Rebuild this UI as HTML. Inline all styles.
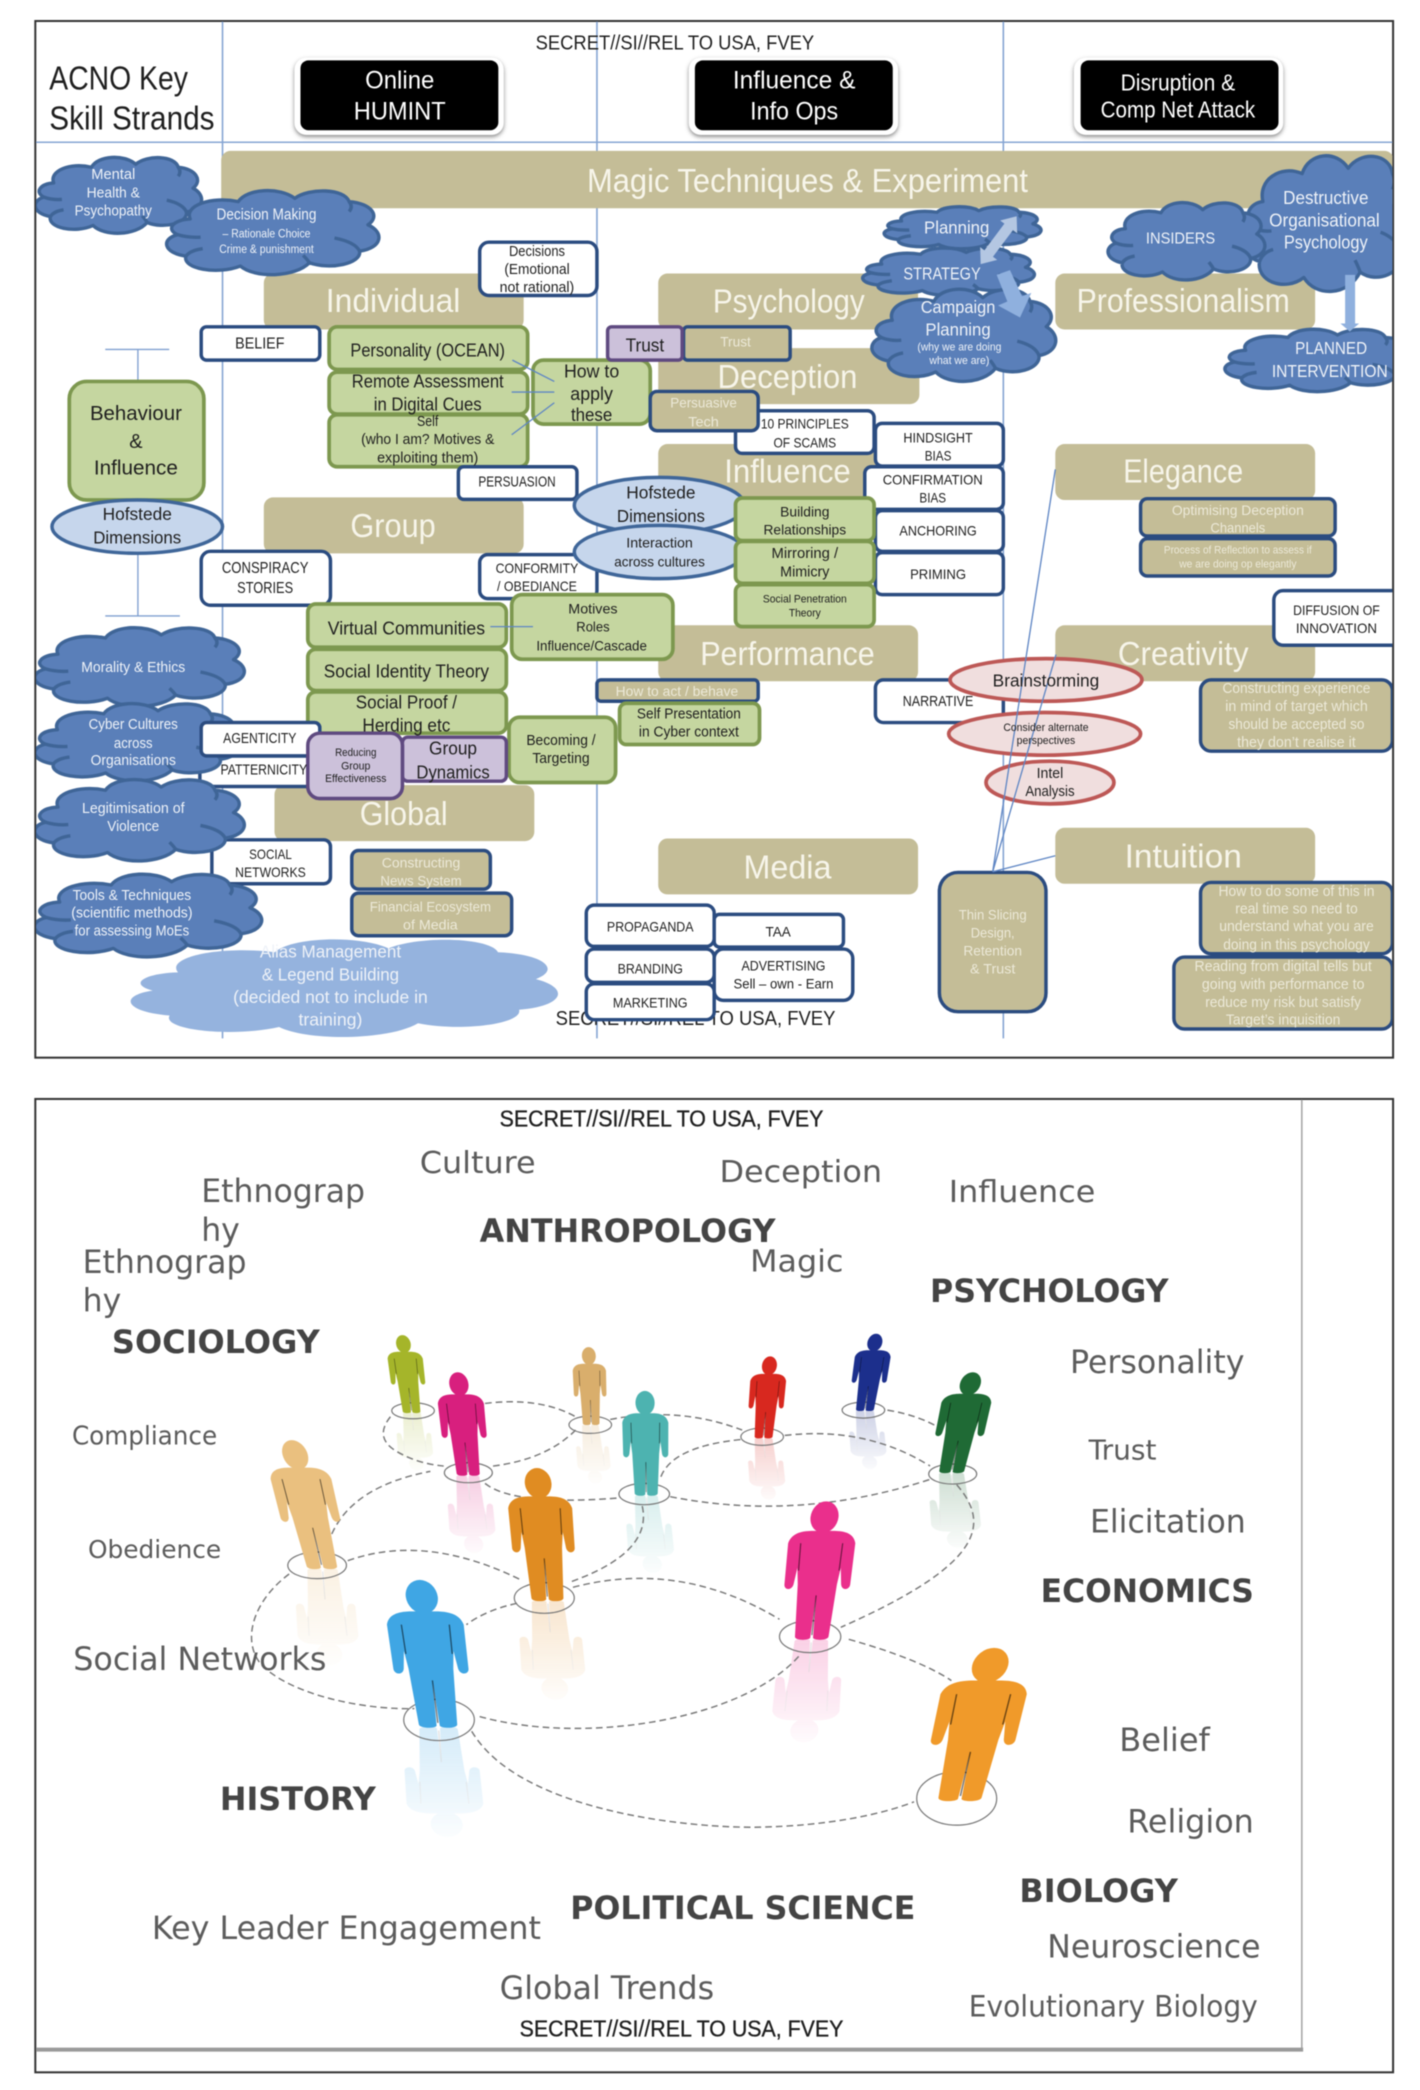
<!DOCTYPE html>
<html><head><meta charset="utf-8"><title>ACNO Key Skill Strands</title>
<style>
html,body{margin:0;padding:0;background:#fff}
svg{display:block;filter:blur(.45px)}
text{font-family:"Liberation Sans",sans-serif}
.c text{text-anchor:middle;dominant-baseline:central}
.d{fill:#1f1f1f}
.tan{fill:#c4bd97}
.bx{fill:#fff;stroke:#2b4c80;stroke-width:2.6}
.bt{fill:#c4bd97;stroke:#2b4c80;stroke-width:2.6}
.gr{fill:#c5d6a0;stroke:#7d984f;stroke-width:2.8}
.pu{fill:#ccc1da;stroke:#5f4a80;stroke-width:2.6}
.el{fill:#c6d6ec;stroke:#3f6699;stroke-width:2.6}
.re{fill:#f0dede;stroke:#bd5856;stroke-width:2.8}
.ln{stroke:#86a5d3;stroke-width:1;fill:none}
.ls{stroke:#5f86c4;stroke-width:1;fill:none}
.ds{stroke:#7a7a7a;stroke-width:1.1;fill:none;stroke-dasharray:5 3}
.gc{fill:none;stroke:#777;stroke-width:.9}
.wd text{font-family:"DejaVu Sans",sans-serif;fill:#5c5c5c}
.wd .b{font-weight:bold;fill:#444}
.cl{fill:#5a7fb9;stroke:#3f6597;stroke-width:3.4;vector-effect:non-scaling-stroke;stroke-linejoin:round}
.ca{fill:none;stroke:#3f6597;stroke-width:3.4;vector-effect:non-scaling-stroke}
</style></head>
<body>
<svg xmlns="http://www.w3.org/2000/svg" width="1420" height="2090" viewBox="0 0 1065.7 1568">
<defs>
<g id="cl"><path class="cl" d="M10,34C7,18 20,6 33,13C37,-3 53,-5 60,9C67,-4 84,-3 86,13C97,15 101,31 95,41C103,50 102,69 91,73C92,88 77,96 67,87C60,105 41,106 34,91C23,102 6,94 8,79C-3,75 -4,58 4,53C-2,46 2,35 10,34Z"/>
<path class="ca" d="M86,13Q88,19 86,25M91,73Q89,62 79,57M67,87Q66,83 64,78M8,79Q10,72 16,70M4,53Q9,57 15,56"/></g>
<g id="lc"><path d="M10,34C7,18 20,6 33,13C37,-3 53,-5 60,9C67,-4 84,-3 86,13C97,15 101,31 95,41C103,50 102,69 91,73C92,88 77,96 67,87C60,105 41,106 34,91C23,102 6,94 8,79C-3,75 -4,58 4,53C-2,46 2,35 10,34Z"/></g>
<g id="pr"><ellipse cx="0" cy="11" rx="10" ry="11.500"/>
<path d="M-7,21L7,21C14,21 22,22 24,30L23.500,60C23.500,64 18,65 17,60L15.500,48L14,60L12,98C12,101 2,101 1,99L0,70L-1,99C-2,101 -12,101 -12,98L-14,60L-15.500,48L-17,60C-18,65 -23.500,64 -23.500,60L-24,30C-22,22 -14,21 -7,21Z"/>
<path d="M0,68L0,97M-15,30L-14.500,50M15,30L14.500,50" fill="none" stroke="#000" stroke-opacity=".55" stroke-width=".8"/></g>
<clipPath id="fr"><rect x="27" y="16" width="1018" height="776"/></clipPath>
<filter id="sh" x="-10%" y="-20%" width="120%" height="150%"><feDropShadow dx="0" dy="1.5" stdDeviation="1.5" flood-color="#888"/></filter>
<linearGradient id="fg" x1="0" y1="0" x2="0" y2="1"><stop offset="0" stop-color="#000"/><stop offset="1" stop-color="#fff"/></linearGradient>
<mask id="fm" maskContentUnits="objectBoundingBox" x="-.2" y="-.1" width="1.4" height="1.2"><rect x="-.2" y="-.1" width="1.4" height="1.2" fill="url(#fg)"/></mask>
</defs>

<rect width="1067" height="1570" fill="#fff"/>
<!-- FRAME 1 -->
<rect x="26.500" y="15.500" width="1019" height="778" fill="#fff" stroke="#333" stroke-width="1.500"/>
<path class="ln" d="M167,16V779M448,16V779M753,16V779M27,106.500H1045" style="stroke-width:1.2"/>

<g clip-path="url(#fr)">
<!-- header -->
<text class="d" x="402" y="37" font-size="15" textLength="209" lengthAdjust="spacingAndGlyphs">SECRET//SI//REL TO USA, FVEY</text>
<text class="d" x="37" y="67" font-size="25" textLength="104" lengthAdjust="spacingAndGlyphs">ACNO Key</text>
<text class="d" x="37" y="97" font-size="25" textLength="124" lengthAdjust="spacingAndGlyphs">Skill Strands</text>
<rect x="221" y="43" width="157" height="58" rx="9" fill="#fff" filter="url(#sh)"/>
<rect x="517" y="43" width="157" height="58" rx="9" fill="#fff" filter="url(#sh)"/>
<rect x="806" y="43" width="157" height="58" rx="9" fill="#fff" filter="url(#sh)"/>
<rect x="225.500" y="45" width="148.500" height="52.500" rx="6" fill="#000"/>
<rect x="521.500" y="45" width="148.500" height="52.500" rx="6" fill="#000"/>
<rect x="811" y="45" width="148.500" height="52.500" rx="6" fill="#000"/>

<!-- tan bars -->
<rect class="tan" x="166" y="113" width="880" height="43" rx="7"/>
<rect class="tan" x="198" y="205" width="195" height="42" rx="7"/>
<rect class="tan" x="494" y="205" width="195" height="42" rx="7"/>
<rect class="tan" x="792" y="205" width="195" height="42" rx="7"/>
<rect class="tan" x="494" y="261" width="196" height="42" rx="7"/>
<rect class="tan" x="494" y="333" width="195" height="42" rx="7"/>
<rect class="tan" x="792" y="333" width="195" height="42" rx="7"/>
<rect class="tan" x="198" y="373" width="195" height="42" rx="7"/>
<rect class="tan" x="494" y="469" width="195" height="42" rx="7"/>
<rect class="tan" x="792" y="469" width="195" height="42" rx="7"/>
<rect class="tan" x="206" y="589" width="195" height="42" rx="7"/>
<rect class="tan" x="494" y="629" width="195" height="42" rx="7"/>
<rect class="tan" x="792" y="621" width="195" height="42" rx="7"/>

<!-- bottom marking (behind boxes) -->
<text class="d" x="417" y="769" font-size="15" textLength="210" lengthAdjust="spacingAndGlyphs">SECRET//SI//REL TO USA, FVEY</text>

<!-- left axis lines -->
<path class="ln" d="M79,262H127M103.500,262V286M103.500,414V462M79,462H135" style="stroke:#7f9fd0"/>

<!-- boxes -->
<rect class="bx" x="360" y="181.500" width="88" height="40" rx="7"/>
<rect class="bx" x="151" y="245" width="89" height="25" rx="4"/>
<rect class="gr" x="247" y="245" width="149" height="32" rx="6"/>
<rect class="gr" x="247" y="279" width="149" height="31.500" rx="6"/>
<rect class="gr" x="247" y="311" width="149" height="39" rx="6"/>
<rect class="gr" x="400" y="270" width="88" height="48" rx="8"/>
<rect class="bt" x="513" y="245" width="80" height="25" rx="3"/>
<rect class="pu" x="456" y="245" width="56" height="25" rx="3"/>
<rect class="bx" x="552" y="308" width="104" height="32" rx="5"/>
<rect class="bt" x="488" y="293.500" width="81" height="29.500" rx="5"/>
<rect class="bx" x="657" y="317.500" width="96" height="32" rx="5"/>
<rect class="bx" x="649" y="350" width="104" height="32" rx="5"/>
<rect class="bx" x="657" y="383" width="96" height="30.500" rx="5"/>
<rect class="bx" x="657" y="414.500" width="96" height="31.500" rx="5"/>
<rect class="bx" x="344" y="350" width="89" height="24.500" rx="4"/>
<rect class="gr" x="52" y="286" width="101" height="89" rx="13"/>
<ellipse class="el" cx="103" cy="395" rx="64" ry="20"/>
<rect class="bx" x="151" y="413.500" width="97" height="40.500" rx="7"/>
<rect class="bx" x="360" y="416" width="88" height="33" rx="6"/>
<ellipse class="el" cx="495" cy="379" rx="64" ry="21"/>
<ellipse class="el" cx="495" cy="414" rx="64" ry="20"/>
<rect class="gr" x="552" y="373.500" width="104" height="32" rx="5"/>
<rect class="gr" x="552" y="406" width="104" height="31.500" rx="5"/>
<rect class="gr" x="552" y="438.500" width="104" height="31.500" rx="5"/>
<rect class="bt" x="448" y="510" width="121" height="16" rx="3"/>
<rect class="gr" x="465" y="527.500" width="105" height="31" rx="5"/>
<rect class="gr" x="384" y="446" width="121" height="48.500" rx="8"/>
<rect class="gr" x="231" y="453" width="149" height="32.500" rx="6"/>
<rect class="gr" x="231" y="487" width="149" height="31" rx="6"/>
<rect class="gr" x="231" y="519" width="149" height="31" rx="6"/>
<rect class="gr" x="382" y="538" width="80" height="49" rx="8"/>
<rect class="pu" x="302" y="553" width="78" height="33" rx="4"/>
<rect class="bx" x="150" y="567" width="90" height="23" rx="3"/>
<rect class="pu" x="231" y="550" width="71" height="49" rx="9"/>
<rect class="bx" x="151" y="542" width="89" height="25" rx="4"/>
<rect class="bx" x="159" y="630" width="89" height="33" rx="5"/>
<rect class="bt" x="264" y="638" width="104" height="29" rx="5"/>
<rect class="bt" x="264" y="670" width="120" height="32" rx="5"/>
<rect class="bx" x="440" y="679" width="96" height="31" rx="6"/>
<rect class="bx" x="440" y="712" width="96" height="25" rx="6"/>
<rect class="bx" x="440" y="738" width="96" height="27" rx="6"/>
<rect class="bx" x="536" y="686" width="97" height="24.500" rx="4"/>
<rect class="bx" x="536" y="712" width="104" height="38.500" rx="7"/>
<rect class="bx" x="657" y="510" width="96" height="32" rx="6"/>
<rect class="bt" x="856" y="374" width="146" height="28" rx="5"/>
<rect class="bt" x="856" y="404" width="146" height="28" rx="5"/>
<rect class="bx" x="956" y="443" width="100" height="41" rx="7"/>
<rect class="bt" x="901" y="510" width="144" height="53.500" rx="8"/>
<rect class="bt" x="901" y="662" width="144" height="53.500" rx="8"/>
<rect class="bt" x="881" y="718" width="164" height="54" rx="8"/>
<rect class="bt" x="705" y="654.500" width="80" height="104.500" rx="14"/>
<ellipse class="re" cx="785" cy="510" rx="72" ry="16"/>
<ellipse class="re" cx="784" cy="550.500" rx="72" ry="16"/>
<ellipse class="re" cx="788" cy="587" rx="48" ry="16"/>

<!-- connector lines -->
<path class="ls" d="M384.500,270L416,286M384,294H416M384,326L416,302M368,470H400"/>
<path class="ls" d="M745,654L792,642M745,654L792.500,491M745,654L792,352"/>

<!-- clouds -->
<use href="#lc" fill="#95b3de" transform="translate(102,705) scale(3.16,.72)"/>
<use href="#cl" transform="translate(28,118) scale(1.23,.56)"/>
<use href="#cl" transform="translate(127,143) scale(1.57,.62)"/>
<use href="#cl" transform="translate(28,471) scale(1.55,.58)"/>
<use href="#cl" transform="translate(28,528) scale(1.51,.57)"/>
<use href="#cl" transform="translate(28,585) scale(1.55,.60)"/>
<use href="#cl" transform="translate(28,656) scale(1.68,.61)"/>
<use href="#cl" transform="translate(665,155) scale(1.16,.31)"/>
<use href="#cl" transform="translate(649,186) scale(1.27,.35)"/>
<use href="#cl" transform="translate(656,217) scale(1.36,.68)"/>
<use href="#cl" transform="translate(935,117) scale(1.28,1.00)"/>
<use href="#cl" transform="translate(833,152) scale(1.16,.57)"/>
<use href="#cl" transform="translate(921,247) scale(1.38,.46)"/>
<!-- re-draw boxes overlapping left clouds -->
<rect class="bx" x="151" y="542" width="89" height="25" rx="4"/>
<rect class="pu" x="231" y="550" width="71" height="49" rx="9"/>

<!-- block arrows -->
<path fill="#b4c7e2" d="M763,162L763.400,174.800L760.200,172.400L745.200,192.400L748.400,194.800L736,198L735.600,185.200L738.800,187.600L753.800,167.600L750.600,165.200Z"/>
<path fill="#8fb0de" d="M748,206L758,202.500L767,222L774,219.500L765.500,238L749,229L756,226Z"/>
<path fill="#8fb0de" d="M1009.500,206H1017V242.500H1020L1013,248.500L1006,242.500H1009.500Z"/>

<!-- TEXT: white on black -->
<g class="c" fill="#fff">
<text x="300" y="60" font-size="19" textLength="52" lengthAdjust="spacingAndGlyphs">Online</text>
<text x="300" y="83.500" font-size="19" textLength="69" lengthAdjust="spacingAndGlyphs">HUMINT</text>
<text x="596" y="60" font-size="19" textLength="92" lengthAdjust="spacingAndGlyphs">Influence &amp;</text>
<text x="596" y="83.500" font-size="19" textLength="66" lengthAdjust="spacingAndGlyphs">Info Ops</text>
<text x="884" y="61.500" font-size="17" textLength="86" lengthAdjust="spacingAndGlyphs">Disruption &amp;</text>
<text x="884" y="82" font-size="17" textLength="116" lengthAdjust="spacingAndGlyphs">Comp Net Attack</text>
</g>
<!-- TEXT: tan headings -->
<g class="c" fill="#f7f5ea">
<text x="606" y="136" font-size="25" textLength="331" lengthAdjust="spacingAndGlyphs">Magic Techniques &amp; Experiment</text>
<text x="295" y="226" font-size="25" textLength="101" lengthAdjust="spacingAndGlyphs">Individual</text>
<text x="592" y="226.500" font-size="25" textLength="114" lengthAdjust="spacingAndGlyphs">Psychology</text>
<text x="888" y="226" font-size="25" textLength="160" lengthAdjust="spacingAndGlyphs">Professionalism</text>
<text x="591" y="283" font-size="25" textLength="105" lengthAdjust="spacingAndGlyphs">Deception</text>
<text x="591" y="354" font-size="25" textLength="95" lengthAdjust="spacingAndGlyphs">Influence</text>
<text x="888" y="354" font-size="25" textLength="90" lengthAdjust="spacingAndGlyphs">Elegance</text>
<text x="295" y="395" font-size="25" textLength="64" lengthAdjust="spacingAndGlyphs">Group</text>
<text x="591" y="491" font-size="25" textLength="131" lengthAdjust="spacingAndGlyphs">Performance</text>
<text x="888" y="491" font-size="25" textLength="98" lengthAdjust="spacingAndGlyphs">Creativity</text>
<text x="303" y="611" font-size="25" textLength="66" lengthAdjust="spacingAndGlyphs">Global</text>
<text x="591" y="651" font-size="25" textLength="66" lengthAdjust="spacingAndGlyphs">Media</text>
<text x="888" y="643" font-size="25" textLength="88" lengthAdjust="spacingAndGlyphs">Intuition</text>
</g>
<!-- TEXT: dark -->
<g class="c" fill="#1f1f1f">
<text x="403" y="189" font-size="11" textLength="42" lengthAdjust="spacingAndGlyphs">Decisions</text>
<text x="403" y="202.500" font-size="11" textLength="49" lengthAdjust="spacingAndGlyphs">(Emotional</text>
<text x="403" y="216" font-size="11" textLength="56" lengthAdjust="spacingAndGlyphs">not rational)</text>
<text x="195" y="258" font-size="12" textLength="37" lengthAdjust="spacingAndGlyphs">BELIEF</text>
<text x="321" y="262.500" font-size="14" textLength="116" lengthAdjust="spacingAndGlyphs">Personality (OCEAN)</text>
<text x="321" y="285.500" font-size="14" textLength="114" lengthAdjust="spacingAndGlyphs">Remote Assessment</text>
<text x="321" y="303" font-size="14" textLength="81" lengthAdjust="spacingAndGlyphs">in Digital Cues</text>
<text x="321" y="316.500" font-size="11" textLength="16" lengthAdjust="spacingAndGlyphs">Self</text>
<text x="321" y="330" font-size="11" textLength="100" lengthAdjust="spacingAndGlyphs">(who I am? Motives &amp;</text>
<text x="321" y="344" font-size="11" textLength="76" lengthAdjust="spacingAndGlyphs">exploiting them)</text>
<text x="444" y="278" font-size="14" textLength="41.500" lengthAdjust="spacingAndGlyphs">How to</text>
<text x="444" y="295" font-size="14" textLength="32" lengthAdjust="spacingAndGlyphs">apply</text>
<text x="444" y="311" font-size="14" textLength="31" lengthAdjust="spacingAndGlyphs">these</text>
<text x="484" y="258.500" font-size="14" textLength="29" lengthAdjust="spacingAndGlyphs">Trust</text>
<text x="388" y="362" font-size="11" textLength="58" lengthAdjust="spacingAndGlyphs">PERSUASION</text>
<text x="102" y="310" font-size="15.500" textLength="69" lengthAdjust="spacingAndGlyphs">Behaviour</text>
<text x="102" y="331" font-size="15.500" textLength="10" lengthAdjust="spacingAndGlyphs">&amp;</text>
<text x="102" y="351" font-size="15.500" textLength="63" lengthAdjust="spacingAndGlyphs">Influence</text>
<text x="103" y="385.500" font-size="13" textLength="52" lengthAdjust="spacingAndGlyphs">Hofstede</text>
<text x="103" y="403" font-size="13" textLength="66" lengthAdjust="spacingAndGlyphs">Dimensions</text>
<text x="496" y="369.500" font-size="13" textLength="52" lengthAdjust="spacingAndGlyphs">Hofstede</text>
<text x="496" y="387" font-size="13" textLength="66" lengthAdjust="spacingAndGlyphs">Dimensions</text>
<text x="495" y="407" font-size="10.500" textLength="50" lengthAdjust="spacingAndGlyphs">Interaction</text>
<text x="495" y="421" font-size="10.500" textLength="68" lengthAdjust="spacingAndGlyphs">across cultures</text>
<text x="199" y="426.500" font-size="12" textLength="65" lengthAdjust="spacingAndGlyphs">CONSPIRACY</text>
<text x="199" y="441.500" font-size="12" textLength="42" lengthAdjust="spacingAndGlyphs">STORIES</text>
<text x="403" y="426" font-size="10.500" textLength="62" lengthAdjust="spacingAndGlyphs">CONFORMITY</text>
<text x="403" y="439.500" font-size="10.500" textLength="60" lengthAdjust="spacingAndGlyphs">/ OBEDIANCE</text>
<text x="445" y="456.500" font-size="10.500" textLength="37" lengthAdjust="spacingAndGlyphs">Motives</text>
<text x="445" y="470" font-size="10.500" textLength="25" lengthAdjust="spacingAndGlyphs">Roles</text>
<text x="444" y="484" font-size="10.500" textLength="83" lengthAdjust="spacingAndGlyphs">Influence/Cascade</text>
<text x="305" y="471" font-size="14" textLength="118" lengthAdjust="spacingAndGlyphs">Virtual Communities</text>
<text x="305" y="503.500" font-size="14" textLength="124" lengthAdjust="spacingAndGlyphs">Social Identity Theory</text>
<text x="305" y="526.500" font-size="14" textLength="76" lengthAdjust="spacingAndGlyphs">Social Proof /</text>
<text x="305" y="544" font-size="14" textLength="66" lengthAdjust="spacingAndGlyphs">Herding etc</text>
<text x="421" y="556" font-size="11" textLength="52" lengthAdjust="spacingAndGlyphs">Becoming /</text>
<text x="421" y="569.500" font-size="11" textLength="43" lengthAdjust="spacingAndGlyphs">Targeting</text>
<text x="340" y="561" font-size="14" textLength="36" lengthAdjust="spacingAndGlyphs">Group</text>
<text x="340" y="579" font-size="14" textLength="55" lengthAdjust="spacingAndGlyphs">Dynamics</text>
<text x="267" y="565" font-size="8.500" textLength="31" lengthAdjust="spacingAndGlyphs">Reducing</text>
<text x="267" y="575" font-size="8.500" textLength="22" lengthAdjust="spacingAndGlyphs">Group</text>
<text x="267" y="584.500" font-size="8.500" textLength="46" lengthAdjust="spacingAndGlyphs">Effectiveness</text>
<text x="195" y="554.500" font-size="11" textLength="55" lengthAdjust="spacingAndGlyphs">AGENTICITY</text>
<text x="198" y="578" font-size="11" textLength="65" lengthAdjust="spacingAndGlyphs">PATTERNICITY</text>
<text x="203" y="640.500" font-size="10.500" textLength="32" lengthAdjust="spacingAndGlyphs">SOCIAL</text>
<text x="203" y="654" font-size="10.500" textLength="53" lengthAdjust="spacingAndGlyphs">NETWORKS</text>
<text x="488" y="695" font-size="10.500" textLength="65" lengthAdjust="spacingAndGlyphs">PROPAGANDA</text>
<text x="488" y="726.500" font-size="10.500" textLength="49" lengthAdjust="spacingAndGlyphs">BRANDING</text>
<text x="488" y="752" font-size="10.500" textLength="56" lengthAdjust="spacingAndGlyphs">MARKETING</text>
<text x="584" y="699" font-size="10.500" textLength="19" lengthAdjust="spacingAndGlyphs">TAA</text>
<text x="588" y="724.500" font-size="10.500" textLength="63" lengthAdjust="spacingAndGlyphs">ADVERTISING</text>
<text x="588" y="738" font-size="10.500" textLength="75" lengthAdjust="spacingAndGlyphs">Sell – own - Earn</text>
<text x="604" y="317.500" font-size="10.500" textLength="66" lengthAdjust="spacingAndGlyphs">10 PRINCIPLES</text>
<text x="604" y="332" font-size="10.500" textLength="47" lengthAdjust="spacingAndGlyphs">OF SCAMS</text>
<text x="704" y="328" font-size="10.500" textLength="52" lengthAdjust="spacingAndGlyphs">HINDSIGHT</text>
<text x="704" y="341.500" font-size="10.500" textLength="20" lengthAdjust="spacingAndGlyphs">BIAS</text>
<text x="700" y="359.500" font-size="10.500" textLength="75" lengthAdjust="spacingAndGlyphs">CONFIRMATION</text>
<text x="700" y="373" font-size="10.500" textLength="20" lengthAdjust="spacingAndGlyphs">BIAS</text>
<text x="704" y="398" font-size="10.500" textLength="58" lengthAdjust="spacingAndGlyphs">ANCHORING</text>
<text x="704" y="430.500" font-size="10.500" textLength="42" lengthAdjust="spacingAndGlyphs">PRIMING</text>
<text x="604" y="383.500" font-size="10.500" textLength="37" lengthAdjust="spacingAndGlyphs">Building</text>
<text x="604" y="397" font-size="10.500" textLength="62" lengthAdjust="spacingAndGlyphs">Relationships</text>
<text x="604" y="415.500" font-size="11" textLength="50" lengthAdjust="spacingAndGlyphs">Mirroring /</text>
<text x="604" y="429.500" font-size="11" textLength="37" lengthAdjust="spacingAndGlyphs">Mimicry</text>
<text x="604" y="449.500" font-size="8.500" textLength="63" lengthAdjust="spacingAndGlyphs">Social Penetration</text>
<text x="604" y="460" font-size="8.500" textLength="24" lengthAdjust="spacingAndGlyphs">Theory</text>
<text x="517" y="536" font-size="11" textLength="78" lengthAdjust="spacingAndGlyphs">Self Presentation</text>
<text x="517" y="549.500" font-size="11" textLength="75" lengthAdjust="spacingAndGlyphs">in Cyber context</text>
<text x="704" y="526.500" font-size="11" textLength="53" lengthAdjust="spacingAndGlyphs">NARRATIVE</text>
<text x="1003" y="457.500" font-size="10.500" textLength="65" lengthAdjust="spacingAndGlyphs">DIFFUSION OF</text>
<text x="1003" y="471" font-size="10.500" textLength="61" lengthAdjust="spacingAndGlyphs">INNOVATION</text>
<text x="785" y="510.500" font-size="13" textLength="80" lengthAdjust="spacingAndGlyphs">Brainstorming</text>
<text x="785" y="546" font-size="8.500" textLength="64" lengthAdjust="spacingAndGlyphs">Consider alternate</text>
<text x="785" y="556" font-size="8.500" textLength="44" lengthAdjust="spacingAndGlyphs">perspectives</text>
<text x="788" y="580.500" font-size="11" textLength="20" lengthAdjust="spacingAndGlyphs">Intel</text>
<text x="788" y="594" font-size="11" textLength="37" lengthAdjust="spacingAndGlyphs">Analysis</text>
</g>
<!-- TEXT: on blue clouds -->
<g class="c" fill="#eef2f8">
<text x="85" y="131" font-size="11" textLength="33" lengthAdjust="spacingAndGlyphs">Mental</text>
<text x="85" y="145" font-size="11" textLength="40" lengthAdjust="spacingAndGlyphs">Health &amp;</text>
<text x="85" y="158.500" font-size="11" textLength="58" lengthAdjust="spacingAndGlyphs">Psychopathy</text>
<text x="200" y="161" font-size="11.500" textLength="75" lengthAdjust="spacingAndGlyphs">Decision Making</text>
<text x="200" y="175" font-size="9" textLength="66" lengthAdjust="spacingAndGlyphs">– Rationale Choice</text>
<text x="200" y="186.500" font-size="9" textLength="71" lengthAdjust="spacingAndGlyphs">Crime &amp; punishment</text>
<text x="100" y="501" font-size="11" textLength="78" lengthAdjust="spacingAndGlyphs">Morality &amp; Ethics</text>
<text x="100" y="544" font-size="11" textLength="67" lengthAdjust="spacingAndGlyphs">Cyber Cultures</text>
<text x="100" y="558" font-size="11" textLength="29" lengthAdjust="spacingAndGlyphs">across</text>
<text x="100" y="571" font-size="11" textLength="64" lengthAdjust="spacingAndGlyphs">Organisations</text>
<text x="100" y="607" font-size="11" textLength="77" lengthAdjust="spacingAndGlyphs">Legitimisation of</text>
<text x="100" y="620.500" font-size="11" textLength="39" lengthAdjust="spacingAndGlyphs">Violence</text>
<text x="99" y="672" font-size="11" textLength="89" lengthAdjust="spacingAndGlyphs">Tools &amp; Techniques</text>
<text x="99" y="685.500" font-size="11" textLength="91" lengthAdjust="spacingAndGlyphs">(scientific methods)</text>
<text x="99" y="699" font-size="11" textLength="86" lengthAdjust="spacingAndGlyphs">for assessing MoEs</text>
<text x="718" y="170.500" font-size="13" textLength="49" lengthAdjust="spacingAndGlyphs">Planning</text>
<text x="707" y="205" font-size="13" textLength="58" lengthAdjust="spacingAndGlyphs">STRATEGY</text>
<text x="719" y="230" font-size="13" textLength="56" lengthAdjust="spacingAndGlyphs">Campaign</text>
<text x="719" y="247" font-size="13" textLength="49" lengthAdjust="spacingAndGlyphs">Planning</text>
<text x="720" y="260.500" font-size="8.500" textLength="63" lengthAdjust="spacingAndGlyphs">(why we are doing</text>
<text x="720" y="270.500" font-size="8.500" textLength="45" lengthAdjust="spacingAndGlyphs">what we are)</text>
<text x="886" y="179" font-size="12" textLength="52" lengthAdjust="spacingAndGlyphs">INSIDERS</text>
<text x="995" y="148" font-size="14" textLength="64" lengthAdjust="spacingAndGlyphs">Destructive</text>
<text x="994" y="165" font-size="14" textLength="83" lengthAdjust="spacingAndGlyphs">Organisational</text>
<text x="995" y="181.500" font-size="14" textLength="63" lengthAdjust="spacingAndGlyphs">Psychology</text>
<text x="999" y="261" font-size="13" textLength="54" lengthAdjust="spacingAndGlyphs">PLANNED</text>
<text x="998" y="278" font-size="13" textLength="87" lengthAdjust="spacingAndGlyphs">INTERVENTION</text>
<text x="248" y="714" font-size="13" textLength="106" lengthAdjust="spacingAndGlyphs">Alias Management</text>
<text x="248" y="731" font-size="13" textLength="103" lengthAdjust="spacingAndGlyphs">&amp; Legend Building</text>
<text x="248" y="748" font-size="13" textLength="146" lengthAdjust="spacingAndGlyphs">(decided not to include in</text>
<text x="248" y="765" font-size="13" textLength="48" lengthAdjust="spacingAndGlyphs">training)</text>
</g>
<!-- TEXT: pale on tan -->
<g class="c" fill="#ece9d8">
<text x="552" y="256" font-size="10.500" textLength="23" lengthAdjust="spacingAndGlyphs">Trust</text>
<text x="528" y="302" font-size="10.500" textLength="50" lengthAdjust="spacingAndGlyphs">Persuasive</text>
<text x="528" y="316" font-size="10.500" textLength="23" lengthAdjust="spacingAndGlyphs">Tech</text>
<text x="508" y="518.500" font-size="10.500" textLength="92" lengthAdjust="spacingAndGlyphs">How to act / behave</text>
<text x="316" y="647" font-size="10.500" textLength="59" lengthAdjust="spacingAndGlyphs">Constructing</text>
<text x="316" y="660.500" font-size="10.500" textLength="61" lengthAdjust="spacingAndGlyphs">News System</text>
<text x="323" y="680" font-size="10.500" textLength="91" lengthAdjust="spacingAndGlyphs">Financial Ecosystem</text>
<text x="323" y="693.500" font-size="10.500" textLength="41" lengthAdjust="spacingAndGlyphs">of Media</text>
<text x="929" y="382.500" font-size="10.500" textLength="99" lengthAdjust="spacingAndGlyphs">Optimising Deception</text>
<text x="929" y="395.500" font-size="10.500" textLength="41" lengthAdjust="spacingAndGlyphs">Channels</text>
<text x="929" y="413" font-size="8.500" textLength="111" lengthAdjust="spacingAndGlyphs">Process of Reflection to assess if</text>
<text x="929" y="423.500" font-size="8.500" textLength="88" lengthAdjust="spacingAndGlyphs">we are doing op elegantly</text>
<text x="973" y="517" font-size="11" textLength="111" lengthAdjust="spacingAndGlyphs">Constructing experience</text>
<text x="973" y="530.500" font-size="11" textLength="107" lengthAdjust="spacingAndGlyphs">in mind of target which</text>
<text x="973" y="544" font-size="11" textLength="102" lengthAdjust="spacingAndGlyphs">should be accepted so</text>
<text x="973" y="557.500" font-size="11" textLength="89" lengthAdjust="spacingAndGlyphs">they don’t realise it</text>
<text x="973" y="669" font-size="11" textLength="117" lengthAdjust="spacingAndGlyphs">How to do some of this in</text>
<text x="973" y="682.500" font-size="11" textLength="92" lengthAdjust="spacingAndGlyphs">real time so need to</text>
<text x="973" y="695.500" font-size="11" textLength="116" lengthAdjust="spacingAndGlyphs">understand what you are</text>
<text x="973" y="709.500" font-size="11" textLength="110" lengthAdjust="spacingAndGlyphs">doing in this psychology</text>
<text x="963" y="725.500" font-size="11" textLength="133" lengthAdjust="spacingAndGlyphs">Reading from digital tells but</text>
<text x="963" y="739" font-size="11" textLength="122" lengthAdjust="spacingAndGlyphs">going with performance to</text>
<text x="963" y="752.500" font-size="11" textLength="117" lengthAdjust="spacingAndGlyphs">reduce my risk but satisfy</text>
<text x="963" y="765.500" font-size="11" textLength="86" lengthAdjust="spacingAndGlyphs">Target’s inquisition</text>
<text x="745" y="686" font-size="10.500" textLength="51" lengthAdjust="spacingAndGlyphs">Thin Slicing</text>
<text x="745" y="699.500" font-size="10.500" textLength="33" lengthAdjust="spacingAndGlyphs">Design,</text>
<text x="745" y="713" font-size="10.500" textLength="44" lengthAdjust="spacingAndGlyphs">Retention</text>
<text x="745" y="726.500" font-size="10.500" textLength="34" lengthAdjust="spacingAndGlyphs">&amp; Trust</text>
</g>
</g>

<!-- FRAME 2 -->
<rect x="26.500" y="824.500" width="1019" height="730.500" fill="#fff" stroke="#333" stroke-width="1.500"/>
<path d="M977,825V1538" stroke="#a8a8a8" stroke-width="1.200" fill="none"/>
<path d="M27,1538H978" stroke="#9a9a9a" stroke-width="3" fill="none"/>

<!-- reflections -->
<g opacity=".24">
<use href="#pr" mask="url(#fm)" fill="#a5b52a" transform="matrix(.55,0,-.04,-.44,313,1103)"/>
<use href="#pr" mask="url(#fm)" fill="#d81f7e" transform="matrix(.72,0,-.05,-.58,356,1165)"/>
<use href="#pr" mask="url(#fm)" fill="#d9ae6c" transform="matrix(.52,0,-.04,-.44,447,1113)"/>
<use href="#pr" mask="url(#fm)" fill="#d8281f" transform="matrix(.56,0,-.04,-.46,577,1125)"/>
<use href="#pr" mask="url(#fm)" fill="#1c2f8c" transform="matrix(.56,0,-.04,-.44,653,1102)"/>
<use href="#pr" mask="url(#fm)" fill="#1f6a35" transform="matrix(.78,0,-.05,-.56,719,1161)"/>
<use href="#pr" mask="url(#fm)" fill="#4db3b0" transform="matrix(.72,0,-.05,-.58,490,1180)"/>
<use href="#pr" mask="url(#fm)" fill="#eac07f" transform="matrix(.95,0,-.06,-.72,248,1249)"/>
<use href="#pr" mask="url(#fm)" fill="#e08c22" transform="matrix(1,0,-.06,-.74,417,1275)"/>
<use href="#pr" mask="url(#fm)" fill="#ea2f8c" transform="matrix(1.05,0,.06,-.77,603,1307)"/>
<use href="#pr" mask="url(#fm)" fill="#3fa6e4" transform="matrix(1.2,0,-.07,-.82,336,1378)"/>
</g>

<!-- network dashed -->
<g>
<path class="ds" d="M293,1063Q281,1078 296,1088Q312,1098 333,1100"/>
<path class="ds" d="M364,1053Q405,1048 432,1063"/>
<path class="ds" d="M370,1100Q410,1095 432,1073"/>
<path class="ds" d="M458,1065Q510,1055 557,1073"/>
<path class="ds" d="M364,1113Q385,1130 464,1124"/>
<path class="ds" d="M503,1123Q600,1142 698,1110"/>
<path class="ds" d="M496,1108Q505,1085 557,1080"/>
<path class="ds" d="M589,1077Q650,1070 698,1100"/>
<path class="ds" d="M666,1058Q690,1062 706,1072"/>
<path class="ds" d="M249,1151Q265,1115 323,1104"/>
<path class="ds" d="M261,1171Q320,1150 392,1186"/>
<path class="ds" d="M482,1130Q490,1165 428,1187"/>
<path class="ds" d="M430,1191Q510,1170 585,1215"/>
<path class="ds" d="M388,1203Q365,1208 350,1219"/>
<path class="ds" d="M217,1181C185,1205 180,1240 203,1255C230,1275 280,1283 311,1282"/>
<path class="ds" d="M360,1288C440,1310 560,1290 601,1241"/>
<path class="ds" d="M718,1114C745,1145 735,1175 631,1221"/>
<path class="ds" d="M637,1230Q690,1245 714,1261"/>
<path class="ds" d="M354,1299C390,1360 520,1372 570,1371C620,1370 660,1362 686,1352"/>
</g>
<!-- ground ellipses -->
<ellipse class="gc" cx="310" cy="1058.500" rx="16" ry="6"/>
<ellipse class="gc" cx="351.500" cy="1105" rx="18" ry="7.500"/>
<ellipse class="gc" cx="443" cy="1069" rx="16" ry="6.500"/>
<ellipse class="gc" cx="572" cy="1078" rx="16" ry="6.500"/>
<ellipse class="gc" cx="648" cy="1058" rx="16" ry="6"/>
<ellipse class="gc" cx="715" cy="1106" rx="18" ry="7.500"/>
<ellipse class="gc" cx="483.500" cy="1121" rx="19" ry="8"/>
<ellipse class="gc" cx="238" cy="1174.500" rx="22" ry="10"/>
<ellipse class="gc" cx="408.500" cy="1199" rx="22.500" ry="11.500"/>
<ellipse class="gc" cx="608" cy="1228" rx="23" ry="12"/>
<ellipse class="gc" cx="329.500" cy="1290.500" rx="26.500" ry="15.500"/>
<ellipse class="gc" cx="718" cy="1349.500" rx="30" ry="20"/>
<!-- figures -->
<use href="#pr" fill="#a5b52a" transform="matrix(.55,0,.07,.58,302,1002)"/>
<use href="#pr" fill="#d81f7e" transform="matrix(.72,0,.08,.77,343.500,1030)"/>
<use href="#pr" fill="#d9ae6c" transform="matrix(.52,0,.02,.58,441.700,1011)"/>
<use href="#pr" fill="#d8281f" transform="matrix(.56,0,-.05,.61,578,1018)"/>
<use href="#pr" fill="#1c2f8c" transform="matrix(.56,0,-.085,.575,657.500,1001)"/>
<use href="#pr" fill="#1f6a35" transform="matrix(.78,0,-.16,.75,730,1030)"/>
<use href="#pr" fill="#4db3b0" transform="matrix(.72,0,.01,.78,484,1044)"/>
<use href="#pr" fill="#eac07f" transform="matrix(.95,0,.23,.96,219,1081)"/>
<use href="#pr" fill="#e08c22" transform="matrix(1,0,.08,.99,403,1102)"/>
<use href="#pr" fill="#ea2f8c" transform="matrix(1.05,0,-.11,1.03,620,1127)"/>
<use href="#pr" fill="#3fa6e4" transform="matrix(1.2,0,.14,1.10,315,1186)"/>
<use href="#pr" fill="#f09a2a" transform="matrix(1.35,0,-.26,1.14,746,1237)"/>

<!-- word cloud -->
<text class="d" x="375" y="845" font-size="17" textLength="243" lengthAdjust="spacingAndGlyphs" stroke="#1f1f1f" stroke-width=".25">SECRET//SI//REL TO USA, FVEY</text>
<text class="d" x="390" y="1528" font-size="17" textLength="243" lengthAdjust="spacingAndGlyphs" stroke="#1f1f1f" stroke-width=".25">SECRET//SI//REL TO USA, FVEY</text>
<g class="wd">
<text x="315" y="880" font-size="23" textLength="87" lengthAdjust="spacingAndGlyphs">Culture</text>
<text x="540" y="887" font-size="23" textLength="122" lengthAdjust="spacingAndGlyphs">Deception</text>
<text x="712" y="902" font-size="23" textLength="110" lengthAdjust="spacingAndGlyphs">Influence</text>
<text x="151" y="902" font-size="24" textLength="123" lengthAdjust="spacingAndGlyphs">Ethnograp</text>
<text x="151" y="931" font-size="24" textLength="29" lengthAdjust="spacingAndGlyphs">hy</text>
<text class="b" x="360" y="932" font-size="24" textLength="222" lengthAdjust="spacingAndGlyphs">ANTHROPOLOGY</text>
<text x="62" y="955" font-size="24" textLength="123" lengthAdjust="spacingAndGlyphs">Ethnograp</text>
<text x="62" y="984" font-size="24" textLength="29" lengthAdjust="spacingAndGlyphs">hy</text>
<text x="563" y="954" font-size="23" textLength="70" lengthAdjust="spacingAndGlyphs">Magic</text>
<text class="b" x="698" y="977" font-size="24" textLength="179" lengthAdjust="spacingAndGlyphs">PSYCHOLOGY</text>
<text class="b" x="84" y="1015" font-size="24" textLength="156" lengthAdjust="spacingAndGlyphs">SOCIOLOGY</text>
<text x="803" y="1030" font-size="24" textLength="131" lengthAdjust="spacingAndGlyphs">Personality</text>
<text x="54" y="1084" font-size="19.500" textLength="109" lengthAdjust="spacingAndGlyphs">Compliance</text>
<text x="817" y="1095" font-size="21" textLength="51" lengthAdjust="spacingAndGlyphs">Trust</text>
<text x="66" y="1169" font-size="19" textLength="100" lengthAdjust="spacingAndGlyphs">Obedience</text>
<text x="818" y="1150" font-size="24" textLength="117" lengthAdjust="spacingAndGlyphs">Elicitation</text>
<text class="b" x="781" y="1202" font-size="24" textLength="160" lengthAdjust="spacingAndGlyphs">ECONOMICS</text>
<text x="55" y="1253" font-size="24" textLength="190" lengthAdjust="spacingAndGlyphs">Social Networks</text>
<text x="840" y="1314" font-size="24" textLength="68" lengthAdjust="spacingAndGlyphs">Belief</text>
<text class="b" x="165" y="1358" font-size="24" textLength="117" lengthAdjust="spacingAndGlyphs">HISTORY</text>
<text x="846" y="1375" font-size="24" textLength="95" lengthAdjust="spacingAndGlyphs">Religion</text>
<text class="b" x="765" y="1427" font-size="24" textLength="119" lengthAdjust="spacingAndGlyphs">BIOLOGY</text>
<text class="b" x="428" y="1440" font-size="24" textLength="259" lengthAdjust="spacingAndGlyphs">POLITICAL SCIENCE</text>
<text x="114" y="1455" font-size="24" textLength="292" lengthAdjust="spacingAndGlyphs">Key Leader Engagement</text>
<text x="786" y="1469" font-size="24" textLength="160" lengthAdjust="spacingAndGlyphs">Neuroscience</text>
<text x="375" y="1500" font-size="24" textLength="161" lengthAdjust="spacingAndGlyphs">Global Trends</text>
<text x="727" y="1513" font-size="22" textLength="217" lengthAdjust="spacingAndGlyphs">Evolutionary Biology</text>
</g>
</svg>
</body></html>
